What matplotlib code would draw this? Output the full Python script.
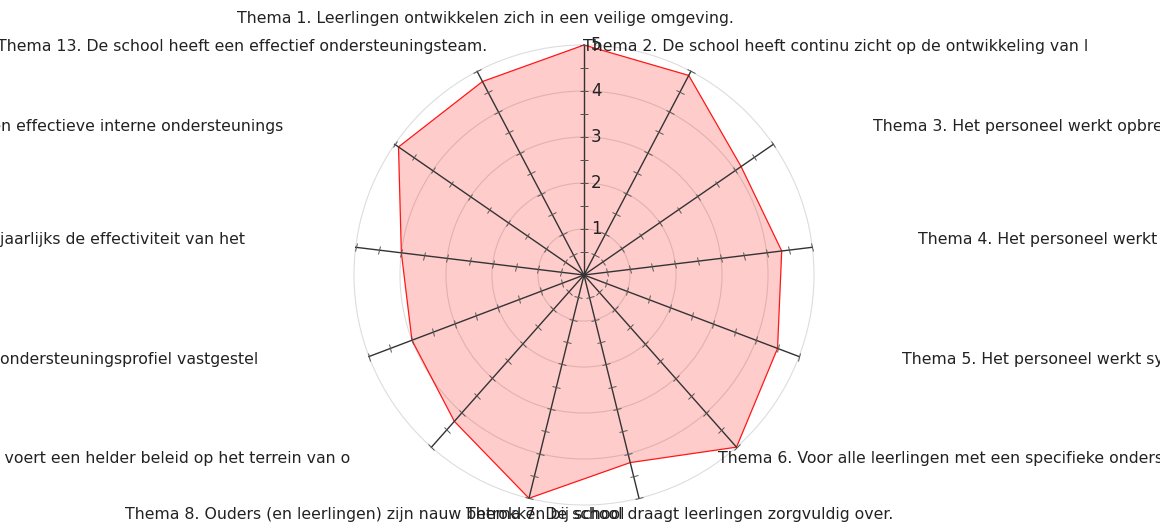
import numpy as np
import matplotlib.pyplot as plt
from matplotlib.markers import MarkerStyle
from matplotlib.transforms import Affine2D

# themes (labels are cut off at ~63 chars in the original)
themes = [
    "Thema 1. Leerlingen ontwikkelen zich in een veilige omgeving.",
    "Thema 2. De school heeft continu zicht op de ontwikkeling van l",
    "Thema 3. Het personeel werkt opbrengstgericht en planmatig aan",
    "Thema 4. Het personeel werkt handelingsgericht en planmatig",
    "Thema 5. Het personeel werkt systematisch aan de ontwikkeling",
    "Thema 6. Voor alle leerlingen met een specifieke ondersteunings",
    "Thema 7. De school draagt leerlingen zorgvuldig over.",
    "Thema 8. Ouders (en leerlingen) zijn nauw betrokken bij school",
    "Thema 9. De school voert een helder beleid op het terrein van o",
    "Thema 10. De school heeft een ondersteuningsprofiel vastgestel",
    "Thema 11. De school evalueert jaarlijks de effectiviteit van het",
    "Thema 12. De school heeft een effectieve interne ondersteunings",
    "Thema 13. De school heeft een effectief ondersteuningsteam.",
]
scores = [5.0, 4.9, 4.15, 4.33, 4.5, 5.0, 4.2, 5.0, 4.25, 4.0, 4.0, 4.9, 4.75]
r_labels = [1, 2, 3, 4, 5]
r_minor = np.arange(0.5, 5.01, 0.5)

# label layout (pixels, x anchor + alignment)
label_x = [485, 583, 873, 918, 902, 718, 680, 125, 350, 258, 245, 283, 487]
label_ha = ['center', 'left', 'left', 'left', 'left', 'left', 'center',
            'left', 'right', 'right', 'right', 'right', 'right']

W, H = 1160, 529
cx, cy, R = 584, 275, 230
rmax = 5.05
Ra = R * rmax / 5

fig = plt.figure(figsize=(W / 100, H / 100), dpi=100)
ax = fig.add_axes([(cx - Ra) / W, (H - cy - Ra) / H, 2 * Ra / W, 2 * Ra / H], polar=True)
ax.set_theta_offset(np.pi / 2)
ax.set_theta_direction(-1)

n = len(themes)
angles = np.linspace(0, 2 * np.pi, n, endpoint=False)

ax.set_ylim(0, rmax)
ax.set_yticks(r_labels)
ax.set_yticklabels([])
ax.set_xticks([])
ax.yaxis.grid(True, color='#dddddd', lw=0.8)
ax.spines['polar'].set_visible(False)

# filled area
a_closed = np.append(angles, angles[0])
s_closed = np.append(scores, scores[0])
ax.fill(a_closed, s_closed, color='red', alpha=0.2, lw=0, zorder=2)
ax.plot(a_closed, s_closed, color='red', lw=0.9, alpha=0.9, zorder=3)

# spokes with their own ticks
for a in angles:
    phi = 90 - np.degrees(a)
    ax.plot([a, a], [0, 5], color='#333333', lw=1, zorder=4)
    m = MarkerStyle('|', transform=Affine2D().rotate_deg(phi))
    ax.plot([a] * len(r_minor), r_minor, ls='none', marker=m, ms=6,
            mec='#555555', mew=0.7, zorder=4)

for r in r_labels:
    ax.annotate(str(r), xy=(0, r), xytext=(5, 0), textcoords='offset points',
                ha='left', va='center', fontsize=12, color='#222222', zorder=5)

for i, t in enumerate(themes):
    phi = np.pi / 2 - angles[i]
    y_px = 270 - 252 * np.sin(phi)
    fig.text(label_x[i] / W, 1 - y_px / H, t, ha=label_ha[i], va='center',
             fontsize=11.3, color='#222222')

fig.savefig('out.png', dpi=100)
